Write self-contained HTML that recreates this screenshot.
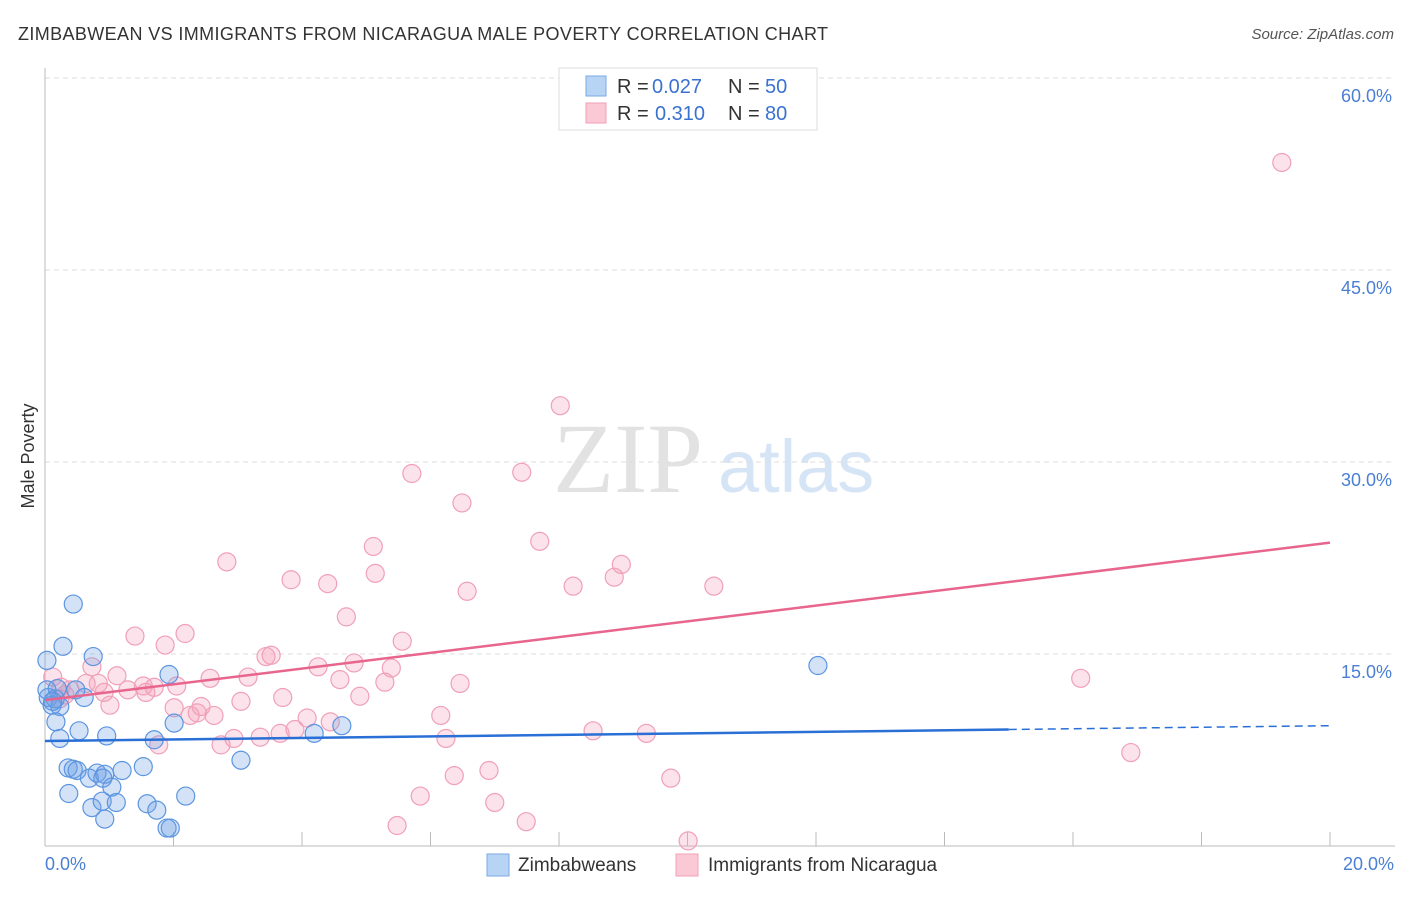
<!DOCTYPE html>
<html><head><meta charset="utf-8"><style>
body{margin:0;background:#fff;font-family:"Liberation Sans",sans-serif;}
</style></head><body>
<svg id="c" width="1406" height="892" style="font-family:'Liberation Sans',sans-serif">
<text x="18" y="40" font-size="18" fill="#333" textLength="810">ZIMBABWEAN VS IMMIGRANTS FROM NICARAGUA MALE POVERTY CORRELATION CHART</text>
<text x="1394" y="39" font-size="15" fill="#555" font-style="italic" text-anchor="end">Source: ZipAtlas.com</text>
<text x="34" y="456" font-size="18" fill="#333" transform="rotate(-90 34 456)" text-anchor="middle">Male Poverty</text>
<g><text x="553" y="492" font-size="100" style="font-family:'Liberation Serif',serif" fill="#e2e2e2">ZIP</text><text x="718" y="492" font-size="74" fill="#d6e5f6">atlas</text></g>
<g id="grid"></g><g id="axes"></g><g id="pts"></g><g id="trend"></g>
<g>
<rect x="559" y="68" width="258" height="62" fill="#fff" stroke="#ddd"/>
<rect x="586" y="76" width="20" height="20" fill="#b8d4f5" stroke="#7aaae6"/>
<rect x="586" y="103" width="20" height="20" fill="#fbc8d6" stroke="#f0a0b8"/>
<text x="617" y="93" font-size="20" fill="#333">R =</text>
<text x="652" y="93" font-size="20" fill="#3a72d0">0.027</text>
<text x="728" y="93" font-size="20" fill="#333">N =</text>
<text x="765" y="93" font-size="20" fill="#3a72d0">50</text>
<text x="617" y="120" font-size="20" fill="#333">R =</text>
<text x="655" y="120" font-size="20" fill="#3a72d0">0.310</text>
<text x="728" y="120" font-size="20" fill="#333">N =</text>
<text x="765" y="120" font-size="20" fill="#3a72d0">80</text>
</g>
<g>
<rect x="487" y="854" width="22" height="22" fill="#b8d4f5" stroke="#7aaae6"/>
<text x="518" y="871" font-size="19" fill="#333">Zimbabweans</text>
<rect x="676" y="854" width="22" height="22" fill="#fbc8d6" stroke="#f0a0b8"/>
<text x="708" y="871" font-size="19" fill="#333">Immigrants from Nicaragua</text>
</g>
</svg>
<script>
const yTicks=[15,30,45,60];
const yTickLabels=["15.0%","30.0%","45.0%","60.0%"];
const xTickLabels=["0.0%","20.0%"];
const blueX=[0.44,0.28,0.03,0.75,1.93,0.05,0.19,0.48,0.61,0.11,0.23,0.16,0.17,0.53,0.23,0.96,1.70,2.01,4.19,4.62,3.05,12.03,0.36,0.44,0.50,0.69,0.81,0.93,0.90,1.04,1.20,1.53,0.37,0.73,0.89,1.11,0.93,1.59,1.74,2.19,1.90,1.95,0.03,0.12];
const blueY=[18.9,15.6,14.5,14.8,13.4,11.6,12.3,12.2,11.6,11.0,10.9,11.5,9.7,9.0,8.4,8.6,8.3,9.6,8.8,9.4,6.7,14.1,6.1,6.0,5.9,5.3,5.7,5.6,5.3,4.6,5.9,6.2,4.1,3.0,3.5,3.4,2.1,3.3,2.8,3.9,1.4,1.4,12.2,11.3];
const pinkX=[19.25,8.02,5.71,7.42,6.49,7.70,5.11,2.83,8.97,5.14,3.83,4.40,8.22,8.86,10.41,6.57,4.69,1.40,2.18,1.87,5.56,3.44,3.52,4.81,4.25,5.39,16.12,1.12,2.57,3.16,4.59,5.29,6.46,0.12,0.73,0.83,1.29,1.53,1.70,2.05,1.57,0.92,0.64,1.01,0.25,0.31,3.70,3.05,4.90,2.01,2.43,2.37,2.26,2.63,4.08,4.44,6.16,3.89,3.66,3.35,2.94,2.74,1.77,6.24,8.53,9.36,16.90,6.91,6.37,9.74,5.84,7.00,7.49,5.48,10.01,0.39,0.23];
const pinkY=[53.4,34.4,29.1,29.2,26.8,23.8,23.4,22.2,22.0,21.3,20.8,20.5,20.3,21.0,20.3,19.9,17.9,16.4,16.6,15.7,16.0,14.8,14.9,14.3,14.0,13.9,13.1,13.3,13.1,13.2,13.0,12.8,12.7,13.2,14.0,12.7,12.2,12.5,12.4,12.5,12.0,12.0,12.7,11.0,12.4,11.8,11.6,11.3,11.7,10.8,10.9,10.4,10.2,10.2,10.0,9.7,10.2,9.1,8.8,8.5,8.4,7.9,7.9,8.4,9.0,8.8,7.3,5.9,5.5,5.3,3.9,3.4,1.9,1.6,0.4,12.2,11.5];
const blueTrend=[8.2,9.4]; // at x=0 and x=20
const pinkTrend=[11.4,23.7];
const NS="http://www.w3.org/2000/svg";
const xs=v=>45+v/20*1285, ys=v=>846-v*12.8;
function mk(t,a,p){const e=document.createElementNS(NS,t);for(const k in a)e.setAttribute(k,a[k]);document.getElementById(p).appendChild(e);return e;}
yTicks.forEach((t,i)=>{
 const g=mk('line',{x1:45,x2:1395,y1:ys(t),y2:ys(t),stroke:'#ddd','stroke-dasharray':'5,4'},'grid');
 
 
 const l=mk('text',{x:1392,y:ys(t)+24,'font-size':18,fill:'#4a7fd4','text-anchor':'end'},'grid');
 l.textContent=yTickLabels[i];
 
 
});
mk('line',{x1:45,x2:45,y1:68,y2:846,stroke:'#bbb'},'axes');
mk('line',{x1:45,x2:1395,y1:846,y2:846,stroke:'#bbb'},'axes');
for(let i=0;i<=10;i++){const t=mk('line',{x1:xs(i*2),x2:xs(i*2),y1:832,y2:846,stroke:'#bbb'},'axes');
 
 }
const x0=mk('text',{x:45,y:870,'font-size':18,fill:'#4a7fd4'},'axes');x0.textContent=xTickLabels[0];


const x1=mk('text',{x:1394,y:870,'font-size':18,fill:'#4a7fd4','text-anchor':'end'},'axes');x1.textContent=xTickLabels[1];


pinkX.forEach((v,i)=>{const c=mk('circle',{cx:xs(v),cy:ys(pinkY[i]),r:9,fill:'rgba(244,160,186,0.3)',stroke:'#f0a0b8','stroke-width':1.2},'pts');
 
 });
blueX.forEach((v,i)=>{const c=mk('circle',{cx:xs(v),cy:ys(blueY[i]),r:9,fill:'rgba(110,160,230,0.3)',stroke:'#5c95e0','stroke-width':1.2},'pts');
 
 });
const bAt=x=>blueTrend[0]+(blueTrend[1]-blueTrend[0])*x/20;
const b1=mk('line',{x1:xs(0),y1:ys(bAt(0)),x2:xs(15),y2:ys(bAt(15)),stroke:'#2a6fd6','stroke-width':2.5},'trend');


const b2=mk('line',{x1:xs(15),y1:ys(bAt(15)),x2:xs(20),y2:ys(bAt(20)),stroke:'#2a6fd6','stroke-width':1.5,'stroke-dasharray':'8,5'},'trend');


const p1=mk('line',{x1:xs(0),y1:ys(pinkTrend[0]),x2:xs(20),y2:ys(pinkTrend[1]),stroke:'#e8658e','stroke-width':2.5},'trend');


</script>
</body></html>
